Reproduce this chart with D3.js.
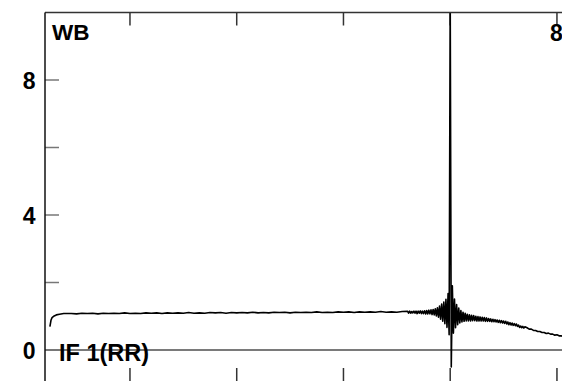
<!DOCTYPE html>
<html><head><meta charset="utf-8">
<script src="https://cdn.jsdelivr.net/npm/d3@7"></script>
<style>html,body{margin:0;padding:0;background:#fff;} svg{display:block;}</style>
</head><body>
<svg id="c" width="562" height="381"></svg>
<script>
// ---- data (channel, amplitude) ----
const rampSeries = [[25,0.69],[26,0.88],[27,0.96],[29,1.01],[31,1.04],[34,1.06],[38,1.08]];
const flatSeries = [[45,1.08],[50,1.07],[55,1.09],[60,1.08],[65,1.09],[70,1.07],[75,1.09],[80,1.08],[85,1.09],[90,1.08],[95,1.10],[100,1.08],[105,1.09],[110,1.08],[115,1.10],[120,1.09],[125,1.10],[130,1.08],[135,1.10],[140,1.09],[145,1.10],[150,1.09],[155,1.11],[160,1.09],[165,1.10],[170,1.09],[175,1.11],[180,1.10],[185,1.11],[190,1.09],[195,1.11],[200,1.10],[205,1.11],[210,1.10],[215,1.12],[220,1.10],[225,1.11],[230,1.10],[235,1.12],[240,1.11],[245,1.12],[250,1.10],[255,1.12],[260,1.11],[265,1.12],[270,1.11],[275,1.13],[280,1.11],[285,1.12],[290,1.11],[295,1.13],[300,1.12],[305,1.13],[310,1.11],[315,1.13],[320,1.12],[325,1.13],[330,1.12],[335,1.14],[340,1.12],[345,1.13],[350,1.12],[355,1.14]];
const burstSeries = [[360,1.15],[361,1.09],[362,1.15],[363,1.09],[364,1.14],[365,1.10],[366,1.15],[367,1.09],[368,1.15],[369,1.08],[370,1.15],[371,1.09],[372,1.16],[373,1.08],[374,1.15],[375,1.08],[376,1.16],[377,1.07],[378,1.17],[379,1.07],[380,1.18],[381,1.07],[382,1.19],[383,1.05],[384,1.20],[385,1.04],[386,1.22],[387,1.01],[388,1.25],[389,0.97],[390,1.30],[391,0.91],[392,1.36],[393,0.85],[394,1.42],[395,0.78],[396,1.50],[397,0.67],[398,1.67],[399,0.45],[400,10.5],[401,-0.5],[402,1.90],[403,0.50],[404,1.51],[405,0.66],[406,1.35],[407,0.75],[408,1.24],[409,0.80],[410,1.17],[411,0.83],[412,1.12],[413,0.85],[414,1.09],[415,0.86],[416,1.06],[417,0.86],[418,1.04],[419,0.86],[420,1.03],[421,0.87],[422,1.02],[423,0.87],[424,1.00],[425,0.86],[426,0.99],[427,0.86],[428,0.98],[429,0.86],[430,0.97],[431,0.86],[432,0.96],[433,0.85],[434,0.95],[435,0.85],[436,0.93],[437,0.85],[438,0.92],[439,0.84],[440,0.91],[441,0.84],[442,0.90],[443,0.83],[444,0.89],[445,0.82],[446,0.88],[447,0.81],[448,0.87],[449,0.80],[450,0.86],[451,0.79],[452,0.85],[453,0.77],[454,0.83],[455,0.75],[456,0.81],[457,0.74],[458,0.80],[459,0.73],[460,0.78],[461,0.72],[462,0.77],[463,0.70],[464,0.74],[465,0.67],[466,0.71],[467,0.66],[468,0.70],[469,0.65],[470,0.69]];
const tailSeries = [[472,0.66],[474,0.62],[476,0.62],[478,0.58],[480,0.58],[482,0.55],[484,0.55],[486,0.52],[488,0.52],[490,0.49],[492,0.50],[494,0.47],[496,0.47],[498,0.44],[500,0.45],[502,0.42],[504,0.42],[506,0.40],[508,0.40],[510,0.38]];
const xTicks = [100, 200, 300, 400, 500];
const yTicks = [0, 2, 4, 6, 8];
const yTickLabels = [0, 4, 8];
const topLeftLabel = "WB";
const topRightLabel = "8";
const bottomLabel = "IF 1(RR)";

const data = rampSeries.concat(flatSeries, burstSeries, tailSeries);

const svg = d3.select('#c');
const x = d3.scaleLinear().domain([20.4, 520]).range([45, 578.3]);
const y = d3.scaleLinear().domain([-0.948, 10]).range([382, 12.5]);
const X0 = x.range()[0], X1 = x.range()[1], Y0 = y.range()[0], Y1 = y.range()[1];
const font = "'Liberation Sans', Arial, Helvetica, sans-serif";

svg.append('defs').append('clipPath').attr('id','clip')
  .append('rect').attr('x',X0).attr('y',Y1).attr('width',X1-X0).attr('height',Y0-Y1);

// zero line
svg.append('line').attr('x1',X0).attr('x2',X1).attr('y1',y(0)).attr('y2',y(0))
  .attr('stroke','#7a7a7a').attr('stroke-width',2);

// y ticks
svg.selectAll('.yt').data(yTicks).join('line')
  .attr('x1',X0).attr('x2',X0+14).attr('y1',d=>y(d)).attr('y2',d=>y(d))
  .attr('stroke','#777').attr('stroke-width',1.5);

// top & bottom x ticks
svg.selectAll('.tt').data(xTicks).join('line')
  .attr('x1',d=>x(d)).attr('x2',d=>x(d)).attr('y1',Y1).attr('y2',Y1+13)
  .attr('stroke','#333').attr('stroke-width',1.5);
svg.selectAll('.bt').data(xTicks).join('line')
  .attr('x1',d=>x(d)).attr('x2',d=>x(d)).attr('y1',Y0-14).attr('y2',Y0)
  .attr('stroke','#333').attr('stroke-width',1.5);

// data line
svg.append('path').datum(data)
  .attr('clip-path','url(#clip)')
  .attr('fill','none').attr('stroke','#000').attr('stroke-width',1.6)
  .attr('stroke-linejoin','round')
  .attr('d', d3.line().x(d=>x(d[0])).y(d=>y(d[1])));

// frame
svg.append('line').attr('x1',X0).attr('x2',X1).attr('y1',Y1).attr('y2',Y1)
  .attr('stroke','#333').attr('stroke-width',1.5);
svg.append('line').attr('x1',X0).attr('x2',X0).attr('y1',Y1).attr('y2',Y0)
  .attr('stroke','#111').attr('stroke-width',1.5);

// y labels
svg.selectAll('.yl').data(yTickLabels).join('text')
  .attr('x',35.5).attr('y',d=>y(d)+9)
  .attr('text-anchor','end').attr('font-family',font).attr('font-weight','bold')
  .attr('font-size',23).attr('fill','#000').text(d=>d);

svg.append('text').attr('x',52).attr('y',40)
  .attr('font-family',font).attr('font-weight','bold').attr('font-size',22.5)
  .attr('fill','#000').text(topLeftLabel);
svg.append('text').attr('x',x(500)-0.5).attr('y',40.5).attr('text-anchor','middle')
  .attr('font-family',font).attr('font-weight','bold').attr('font-size',23)
  .attr('fill','#000').text(topRightLabel);
svg.append('text').attr('x',59).attr('y',361)
  .attr('font-family',font).attr('font-weight','bold').attr('font-size',23.5)
  .attr('fill','#000').text(bottomLabel);
</script>
</body></html>
